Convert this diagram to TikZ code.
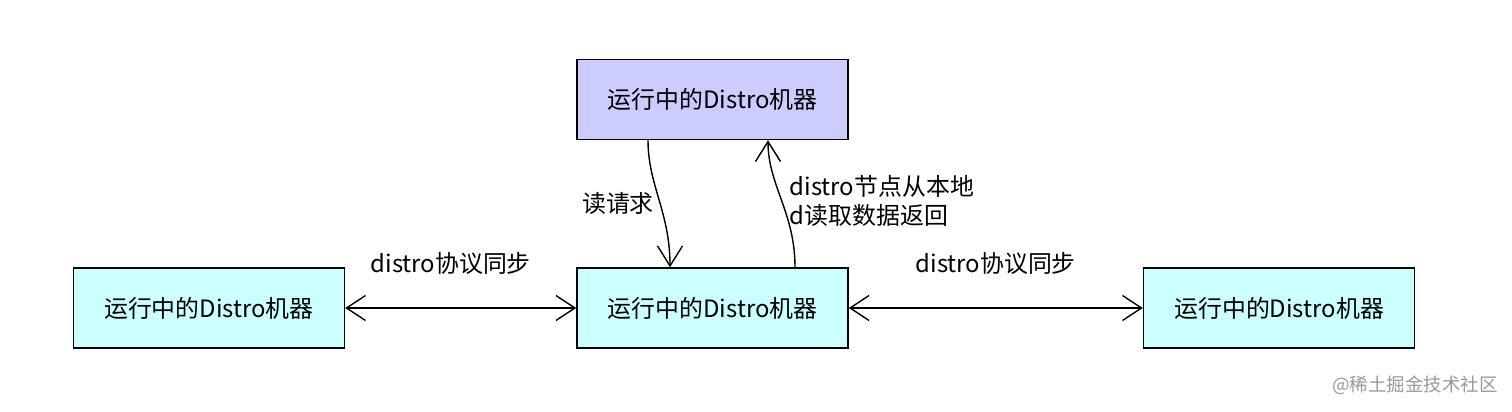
\documentclass[tikz,border=0pt]{standalone}
\usepackage{fontspec}
\setmainfont{Noto Sans CJK SC}
\usetikzlibrary{positioning, calc, arrows.meta}

\definecolor{boxcyan}{HTML}{CCFFFF}
\definecolor{boxlav}{HTML}{CCCCFF}

\begin{document}
\begin{tikzpicture}[
    every node/.style={font=\fontsize{13.6}{16.5}\selectfont, inner sep=2pt},
    machine/.style={draw, line width=0.9pt, minimum width=5.42cm, minimum height=1.6cm, fill=boxcyan},
    link/.style={line width=0.8pt, {Straight Barb[length=0.38cm, width=0.5cm]}-{Straight Barb[length=0.38cm, width=0.5cm]}},
    flow/.style={line width=0.8pt, -{Straight Barb[length=0.4cm, width=0.5cm]}},
    lbl/.style={draw=none, fill=none, align=left}
  ]
  \useasboundingbox (0,0) rectangle (30.24,8.22);
  \node[machine] (mid) at (14.25,2.06) {运行中的Distro机器};
  \node[machine, fill=boxlav, above=2.54cm of mid] (top) {运行中的Distro机器};
  \node[machine, left=4.62cm of mid] (left) {运行中的Distro机器};
  \node[machine, right=5.88cm of mid] (right) {运行中的Distro机器};

  \draw[link] (left) -- node[lbl, above=0.58cm, xshift=-0.2cm] {distro协议同步} (mid);
  \draw[link] (mid) -- node[lbl, above=0.58cm] {distro协议同步} (right);

  \draw[flow] ([xshift=-1.29cm]top.south) .. controls ++(0,-0.9) and ++(0,1.1) .. ([xshift=-0.85cm]mid.north);
  \draw[flow] ([xshift=1.65cm]mid.north) .. controls ++(0,1.1) and ++(0,-0.9) .. ([xshift=1.11cm]top.south);

  \node[lbl] (req) at (12.36,4.16) {读请求};
  \node[lbl, anchor=west] (resp) at (15.72,4.2) {distro节点从本地\\d读取数据返回};

  \node[lbl, text=black!40, font=\fontsize{10.5}{12}\selectfont] (mark) at (28.3,0.52) {@稀土掘金技术社区};
\end{tikzpicture}
\end{document}
